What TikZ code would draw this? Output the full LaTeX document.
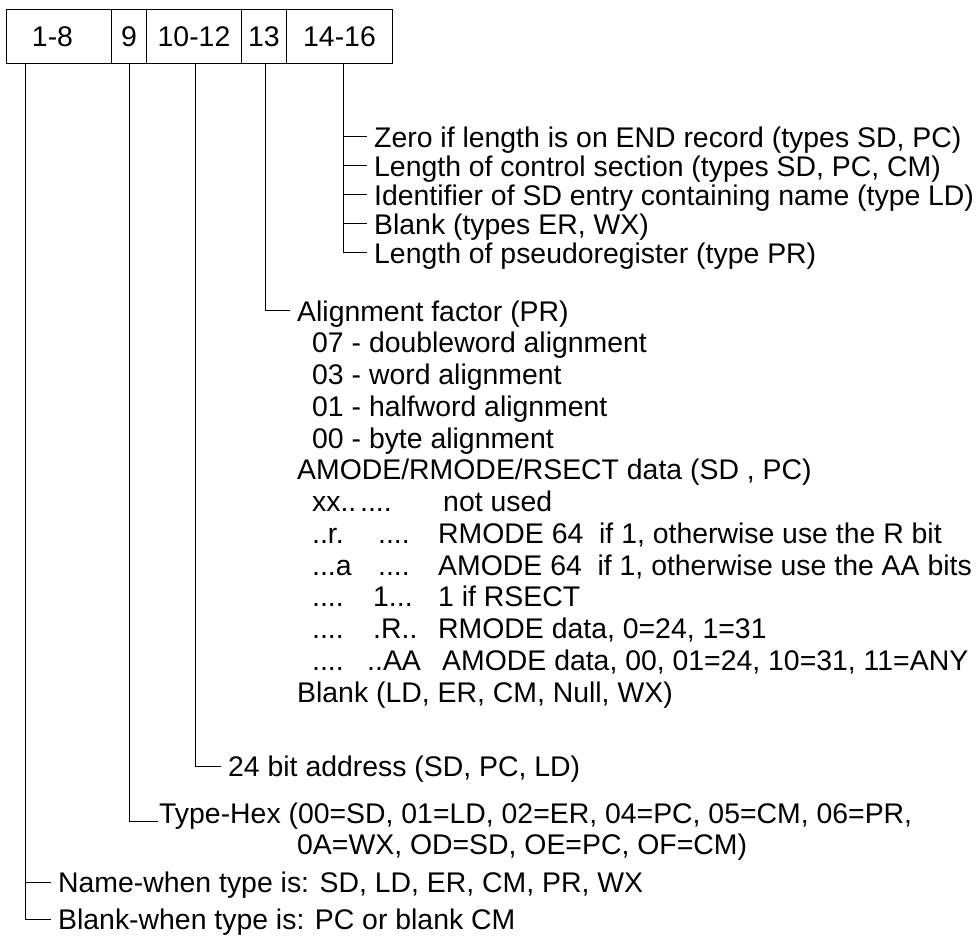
\documentclass[tikz,border=0pt]{standalone}
\usepackage{fontspec}
\setmainfont{Liberation Sans}
\newcommand{\fsz}{\fontsize{28.4pt}{30pt}\selectfont}
\begin{document}
\begin{tikzpicture}[x=1pt,y=-1pt,
  cell/.style={draw, line width=1pt, minimum height=54pt, inner sep=0pt, anchor=north west, font=\fsz},
  txt/.style={anchor=base west, inner xsep=8pt, inner ysep=0pt, text height=20.4pt, text depth=0pt, font=\fsz},
  ln/.style={line width=1pt, line cap=rect}]
\useasboundingbox (0,0) rectangle (978,936);
% record fields
\node[cell, minimum width=105pt] (c1) at (6,9) {\hspace*{-13pt}1-8};
\node[cell, minimum width=35pt] (c2) at (111,9) {9};
\node[cell, minimum width=95pt] (c3) at (146,9) {10-12};
\node[cell, minimum width=45pt] (c4) at (241,9) {13};
\node[cell, minimum width=106pt] (c5) at (286,9) {14-16};
% x positions of the leader lines
\coordinate (x1) at (25,0);
\coordinate (x2) at (129,0);
\coordinate (x3) at (195,0);
\coordinate (x4) at (265,0);
\coordinate (x5) at (343,0);
% 14-16
\node[txt] (z1) at (366,147.2) {Zero if length is on END record (types SD, PC)};
\node[txt] (z2) at (366,176.2) {Length of control section (types SD, PC, CM)};
\node[txt] (z3) at (366,205.2) {Identifier of SD entry containing name (type LD)};
\node[txt] (z4) at (366,234.2) {Blank (types ER, WX)};
\node[txt] (z5) at (366,263.2) {Length of pseudoregister (type PR)};
% 13
\node[txt] (a0) at (289,321.2) {Alignment factor (PR)};
\node[txt] (a1) at (304,352.95) {07 - doubleword alignment};
\node[txt] (a2) at (304,384.7) {03 - word alignment};
\node[txt] (a3) at (304,416.45) {01 - halfword alignment};
\node[txt] (a4) at (304,448.2) {00 - byte alignment};
\node[txt] (a5) at (289,479.95) {AMODE/RMODE/RSECT data (SD , PC)};
\node[txt] (a6) at (304,511.7) {\makebox[48pt][l]{xx..}\makebox[83pt][l]{....}not used};
\node[txt] (a7) at (304,543.45) {\makebox[66pt][l]{..r.}\makebox[60pt][l]{....}RMODE 64\ \ if 1, otherwise use the R bit};
\node[txt] (a8) at (304,575.2) {\makebox[66pt][l]{...a}\makebox[60pt][l]{....}AMODE 64\ \ if 1, otherwise use the AA bits};
\node[txt] (a9) at (304,606.95) {\makebox[61pt][l]{....}\makebox[65pt][l]{1...}1 if RSECT};
\node[txt] (a10) at (304,638.7) {\makebox[61pt][l]{....}\makebox[65pt][l]{.R..}RMODE data, 0=24, 1=31};
\node[txt] (a11) at (304,670.45) {\makebox[55pt][l]{....}\makebox[75pt][l]{..AA}AMODE data, 00, 01=24, 10=31, 11=ANY};
\node[txt] (a12) at (289,702.2) {Blank (LD, ER, CM, Null, WX)};
% 10-12
\node[txt] (b1) at (220,776.2) {24 bit address (SD, PC, LD)};
% 9
\node[txt, inner xsep=2pt] (t1) at (157,823.2) {Type-Hex (00=SD, 01=LD, 02=ER, 04=PC, 05=CM, 06=PR,};
\node[txt] (t2) at (289,854.2) {0A=WX, OD=SD, OE=PC, OF=CM)};
% 1-8
\node[txt] (n1) at (50,892.2) {Name-when type is: SD, LD, ER, CM, PR, WX};
\node[txt] (n2) at (50,929.2) {Blank-when type is: PC or blank CM};
% leaders
\draw[ln] (c5.south -| x5) |- (z5.west);
\foreach \n in {z1,z2,z3,z4} \draw[ln] (x5 |- \n.west) -- (\n.west);
\draw[ln] (c4.south -| x4) |- (a0.west);
\draw[ln] (c3.south -| x3) |- (b1.west);
\draw[ln] (c2.south -| x2) |- ([yshift=-8pt]t1.west);
\draw[ln] (c1.south -| x1) |- (n2.west);
\draw[ln] (x1 |- n1.west) -- (n1.west);
\end{tikzpicture}
\end{document}
